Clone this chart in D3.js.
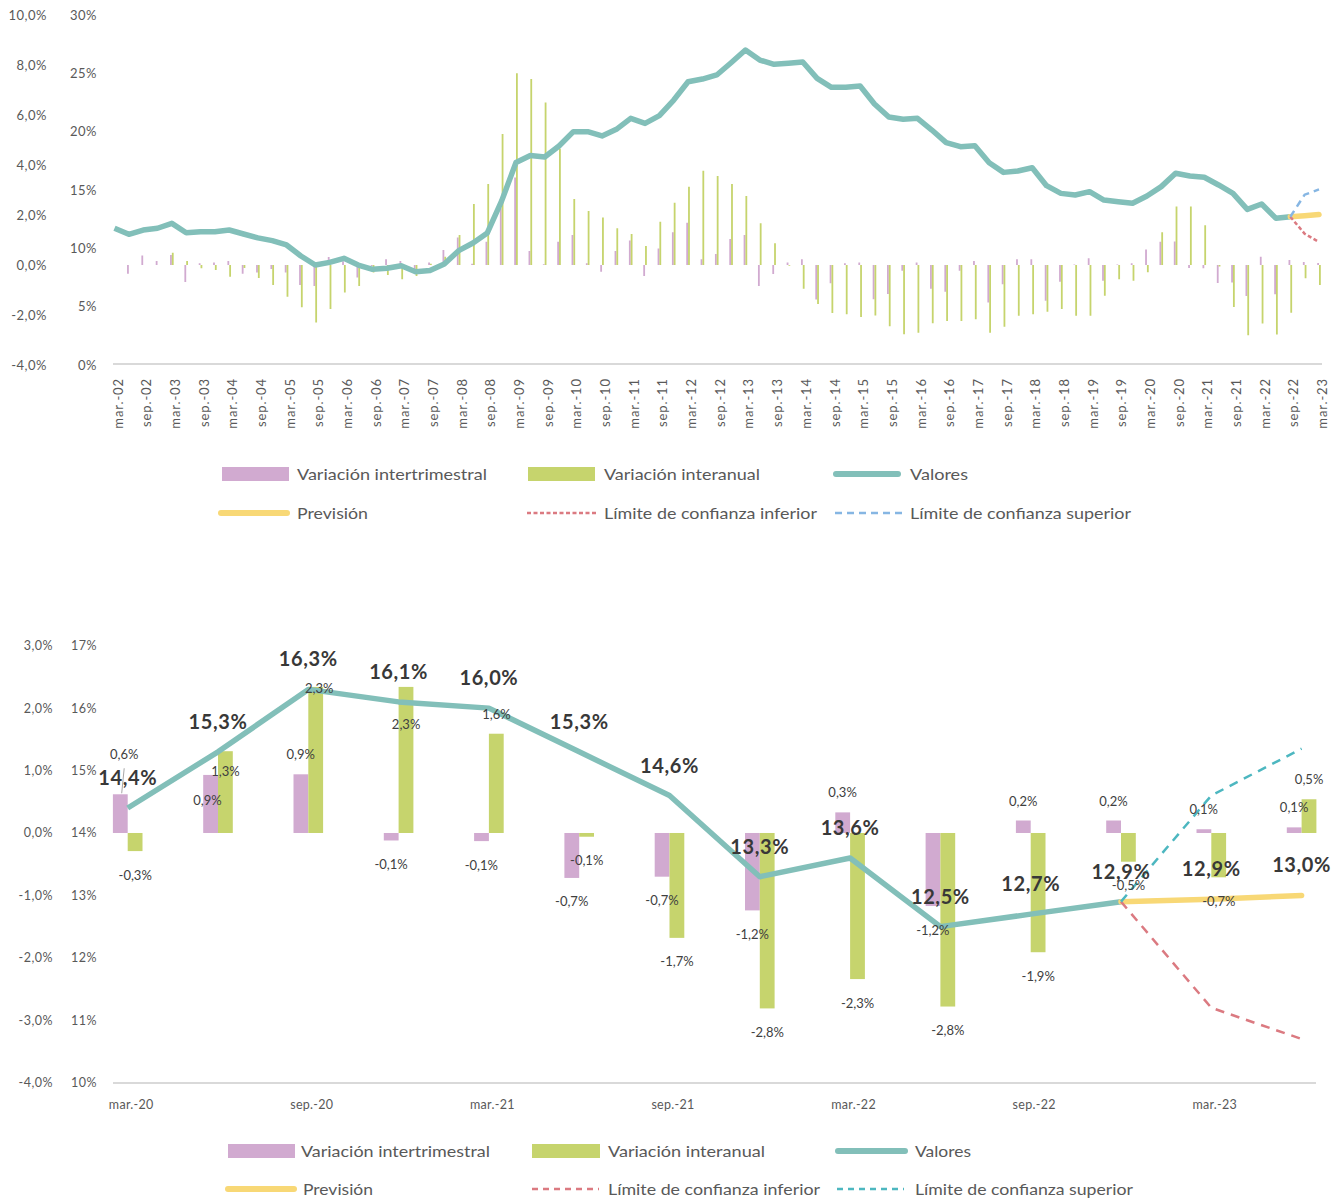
<!DOCTYPE html>
<html><head><meta charset="utf-8">
<script src="https://cdn.jsdelivr.net/npm/d3@7"></script>
<style>
body{margin:0;background:#fff}
svg{display:block}
text{font-family:Lato,"Open Sans",sans-serif}
</style>
</head><body>
<svg id="c" width="1343" height="1198"></svg>
<script>
// ---------- DATA: top chart (quarterly, mar-02 .. mar-23) ----------
const topCategories = [
"mar.-02","jun.-02","sep.-02","dic.-02","mar.-03","jun.-03","sep.-03","dic.-03",
"mar.-04","jun.-04","sep.-04","dic.-04","mar.-05","jun.-05","sep.-05","dic.-05",
"mar.-06","jun.-06","sep.-06","dic.-06","mar.-07","jun.-07","sep.-07","dic.-07",
"mar.-08","jun.-08","sep.-08","dic.-08","mar.-09","jun.-09","sep.-09","dic.-09",
"mar.-10","jun.-10","sep.-10","dic.-10","mar.-11","jun.-11","sep.-11","dic.-11",
"mar.-12","jun.-12","sep.-12","dic.-12","mar.-13","jun.-13","sep.-13","dic.-13",
"mar.-14","jun.-14","sep.-14","dic.-14","mar.-15","jun.-15","sep.-15","dic.-15",
"mar.-16","jun.-16","sep.-16","dic.-16","mar.-17","jun.-17","sep.-17","dic.-17",
"mar.-18","jun.-18","sep.-18","dic.-18","mar.-19","jun.-19","sep.-19","dic.-19",
"mar.-20","jun.-20","sep.-20","dic.-20","mar.-21","jun.-21","sep.-21","dic.-21",
"mar.-22","jun.-22","sep.-22","dic.-22","mar.-23"];
const topTickLabels = topCategories.filter(c => c.startsWith("mar.") || c.startsWith("sep."));
const topLeftTicks = [-4,-2,0,2,4,6,8,10];
const topRightTicks = [0,5,10,15,20,25,30];

const topValores = [
11.72,11.2,11.57,11.72,12.14,11.34,11.43,11.43,11.57,11.23,
10.9,10.66,10.29,9.34,8.57,8.8,9.14,8.57,8.2,8.29,
8.51,8.0,8.09,8.66,9.8,10.46,11.32,14.07,17.35,17.95,
17.83,18.77,20.0,20.0,19.63,20.2,21.14,20.71,21.37,22.71,
24.28,24.51,24.86,25.91,27.0,26.14,25.77,25.86,25.97,24.57,
23.8,23.8,23.91,22.37,21.25,21.06,21.14,20.14,19.06,18.71,
18.8,17.34,16.51,16.63,16.91,15.37,14.71,14.57,14.86,14.14,
14.0,13.86,14.49,15.29,16.43,16.2,16.09,15.43,14.71,13.34,
13.8,12.57,12.71,null,null];
const topInter = [
null,-0.35,0.38,0.16,0.4,-0.68,0.07,0.1,0.16,-0.35,
-0.3,-0.16,-0.3,-0.8,-0.84,0.32,0.15,-0.5,-0.05,0.23,
0.16,-0.23,0.1,0.6,1.1,0.05,0.93,2.27,3.5,0.56,
0.03,0.93,1.2,0.07,-0.27,0.56,0.98,-0.44,0.66,1.31,
1.69,0.23,0.44,1.04,1.2,-0.84,-0.36,0.1,0.23,-1.38,
-0.73,0.07,0.1,-1.37,-1.16,-0.23,0.1,-0.95,-1.07,-0.23,
0.16,-1.5,-0.77,0.23,0.23,-1.43,-0.67,0.02,0.27,-0.63,
0.02,0.07,0.62,0.93,0.94,-0.12,-0.13,-0.72,-0.70,-1.24,
0.33,-1.17,0.20,0.12,0.08];
const topAnual = [
null,null,null,null,0.49,0.16,-0.13,-0.2,-0.47,-0.12,
-0.52,-0.8,-1.27,-1.69,-2.3,-1.76,-1.1,-0.84,-0.3,-0.4,
-0.57,-0.44,0.05,0.33,1.2,2.44,3.24,5.24,7.67,7.44,
6.5,4.65,2.64,2.16,1.9,1.47,1.24,0.76,1.73,2.49,
3.13,3.77,3.56,3.24,2.76,1.67,0.87,-0.03,-0.95,-1.56,
-1.92,-1.97,-2.08,-2.02,-2.45,-2.77,-2.71,-2.33,-2.24,-2.24,
-2.17,-2.71,-2.47,-2.03,-1.97,-1.87,-1.76,-2.03,-2.03,-1.23,
-0.57,-0.63,-0.29,1.31,2.34,2.34,1.59,-0.06,-1.68,-2.81,
-2.34,-2.78,-1.91,-0.53,-0.8];
const topForecastCats = ["sep.-22","dic.-22","mar.-23"];
const topPrevision = [12.71,12.8,12.9];
const topLower = [12.71,11.25,10.55];
const topUpper = [12.71,14.6,15.05];

// ---------- DATA: bottom chart (mar-20 .. jun-23) ----------
const botCategories = ["mar.-20","jun.-20","sep.-20","dic.-20","mar.-21","jun.-21","sep.-21","dic.-21","mar.-22","jun.-22","sep.-22","dic.-22","mar.-23","jun.-23"];
const botTickLabels = ["mar.-20","sep.-20","mar.-21","sep.-21","mar.-22","sep.-22","mar.-23"];
const botLeftTicks = [-4,-3,-2,-1,0,1,2,3];
const botRightTicks = [10,11,12,13,14,15,16,17];
const botValores = [14.4,15.3,16.3,16.1,16.0,15.3,14.6,13.3,13.6,12.5,12.7,12.9,null,null];
const botInter = [0.62,0.93,0.94,-0.12,-0.13,-0.72,-0.70,-1.24,0.33,-1.17,0.20,0.20,0.06,0.09];
const botAnual = [-0.29,1.31,2.34,2.34,1.59,-0.06,-1.68,-2.81,-2.34,-2.78,-1.91,-0.46,-0.71,0.54];
const botForecastCats = ["dic.-22","mar.-23","jun.-23"];
const botPrevision = [12.9,12.94,13.0];
const botLower = [12.9,11.2,10.7];
const botUpper = [12.9,14.6,15.35];

const legendLabels = ["Variación intertrimestral","Variación interanual","Valores","Previsión","Límite de confianza inferior","Límite de confianza superior"];

// ---------- STYLE ----------
const COL = {inter:"#D1AAD0", anual:"#C6D46D", val:"#82BFB9", prev:"#F8D876", low:"#DB7A81",
             upTop:"#86B6E3", upBot:"#4DB7C0", axis:"#D9D9D9", tick:"#595959", lbl:"#404040", big:"#383838"};
const pct1 = v => d3.format(".1f")(v).replace("−","-").replace(".", ",") + "%";
const pct0 = v => d3.format(".0f")(v).replace("−","-") + "%";

const svg = d3.select("#c");
svg.append("rect").attr("width",1343).attr("height",1198).attr("fill","#fff");

function yAxis(scale, ticks, fmt, xRight, size){
  const g = svg.append("g").attr("transform",`translate(${xRight},0)`)
    .call(d3.axisLeft(scale).tickValues(ticks).tickFormat(fmt).tickSize(0).tickPadding(0));
  g.select(".domain").remove();
  g.selectAll("text").attr("fill",COL.tick).style("font-size",size+"px").style("letter-spacing","0.5px")
    .attr("font-family","Lato, 'Open Sans', sans-serif");
}

// ================= TOP CHART =================
const tx = d3.scalePoint().domain(topCategories).range([114.5, 1319]);
const tyL = d3.scaleLinear().domain([-4,10]).range([365,15]);
const tyR = d3.scaleLinear().domain([0,30]).range([365,15]);

yAxis(tyL, topLeftTicks, pct1, 47, 13);
yAxis(tyR, topRightTicks, pct0, 97, 13);

svg.append("line").attr("x1",113).attr("x2",1322).attr("y1",364).attr("y2",364)
  .attr("stroke",COL.axis).attr("stroke-width",2);

const gtx = svg.append("g").attr("transform","translate(0,364)")
  .call(d3.axisBottom(tx).tickValues(topTickLabels).tickSize(0).tickPadding(0));
gtx.select(".domain").remove();
gtx.selectAll("text").attr("transform","rotate(-90)").attr("text-anchor","end")
  .attr("x",-14).attr("y",3).attr("dy","0.35em").attr("fill",COL.tick)
  .style("font-size","13px").style("letter-spacing","0.9px").attr("font-family","Lato, 'Open Sans', sans-serif");

const tbw = 1.8;
function topBars(vals, color, left){
  svg.append("g").selectAll("rect")
    .data(vals.map((v,i)=>({v, c:topCategories[i]})).filter(d=>d.v!=null))
    .join("rect")
    .attr("x", d => left ? tx(d.c)-tbw : tx(d.c))
    .attr("width", tbw)
    .attr("y", d => tyL(Math.max(0,d.v)))
    .attr("height", d => Math.abs(tyL(d.v)-tyL(0)))
    .attr("fill", color);
}
topBars(topInter, COL.inter, true);
topBars(topAnual, COL.anual, false);

const tline = d3.line().defined(d=>d.v!=null).x(d=>tx(d.c)).y(d=>tyR(d.v));
svg.append("path").datum(topValores.map((v,i)=>({v,c:topCategories[i]})))
  .attr("d",tline).attr("fill","none").attr("stroke",COL.val).attr("stroke-width",5.5).attr("stroke-linejoin","round");
const tf = arr => arr.map((v,i)=>({v,c:topForecastCats[i]}));
svg.append("path").datum(tf(topPrevision)).attr("d",tline).attr("fill","none")
  .attr("stroke",COL.prev).attr("stroke-width",5.5).attr("stroke-linecap","round");
svg.append("path").datum(tf(topLower)).attr("d",tline).attr("fill","none")
  .attr("stroke",COL.low).attr("stroke-width",2.5).attr("stroke-dasharray","4,2.5");
svg.append("path").datum(tf(topUpper)).attr("d",tline).attr("fill","none")
  .attr("stroke",COL.upTop).attr("stroke-width",2.5).attr("stroke-dasharray","7,5");

// legend helper
function legend(items){
  items.forEach(it=>{
    const g = svg.append("g");
    if(it.type==="rect"){
      g.append("rect").attr("x",it.x1).attr("y",it.y-7).attr("width",it.x2-it.x1).attr("height",14).attr("fill",it.color);
    } else {
      g.append("line").attr("x1",it.x1).attr("x2",it.x2).attr("y1",it.y).attr("y2",it.y)
        .attr("stroke",it.color).attr("stroke-width",it.w)
        .attr("stroke-linecap", it.dash ? "butt" : "round")
        .attr("stroke-dasharray", it.dash || null);
    }
    g.append("text").attr("x",it.tx).attr("y",it.y).attr("dy","0.36em").text(it.label)
      .attr("fill",COL.tick).style("font-size","16px")
      .attr("textLength",it.tw).attr("lengthAdjust","spacingAndGlyphs");
  });
}
legend([
  {type:"rect", x1:222, x2:289, y:474, color:COL.inter, tx:297, tw:190, label:legendLabels[0]},
  {type:"rect", x1:528, x2:595, y:474, color:COL.anual, tx:604, tw:156, label:legendLabels[1]},
  {type:"line", x1:836, x2:898, y:474, w:6, color:COL.val, tx:910, tw:58, label:legendLabels[2]},
  {type:"line", x1:221, x2:287, y:513, w:6, color:COL.prev, tx:297, tw:71, label:legendLabels[3]},
  {type:"line", x1:527, x2:597, y:513, w:2.5, dash:"4,2.5", color:COL.low, tx:604, tw:213, label:legendLabels[4]},
  {type:"line", x1:835, x2:902, y:513, w:2.5, dash:"7,5", color:COL.upTop, tx:910, tw:221, label:legendLabels[5]}
]);

// ================= BOTTOM CHART =================
const bx = d3.scalePoint().domain(botCategories).range([127.7, 1301.6]);
const byL = d3.scaleLinear().domain([-4,3]).range([1082.7,645.7]);
const byR = d3.scaleLinear().domain([10,17]).range([1082.7,645.7]);

yAxis(byL, botLeftTicks, pct1, 53, 12.5);
yAxis(byR, botRightTicks, pct0, 97, 12.5);

svg.append("line").attr("x1",113).attr("x2",1316).attr("y1",1083).attr("y2",1083)
  .attr("stroke",COL.axis).attr("stroke-width",2);

const gbx = svg.append("g").attr("transform","translate(3,1083)")
  .call(d3.axisBottom(bx).tickValues(botTickLabels).tickSize(0).tickPadding(0));
gbx.select(".domain").remove();
gbx.selectAll("text").attr("y",22).attr("dy","0.35em").attr("fill",COL.tick)
  .style("font-size","12.5px").style("letter-spacing","0.3px").attr("font-family","Lato, 'Open Sans', sans-serif");

const bbw = 14.8;
function botBars(vals, color, left){
  svg.append("g").selectAll("rect")
    .data(vals.map((v,i)=>({v, c:botCategories[i]})))
    .join("rect")
    .attr("x", d => left ? bx(d.c)-bbw : bx(d.c))
    .attr("width", bbw)
    .attr("y", d => byL(Math.max(0,d.v)))
    .attr("height", d => Math.abs(byL(d.v)-byL(0)))
    .attr("fill", color);
}
botBars(botInter, COL.inter, true);
botBars(botAnual, COL.anual, false);

const bline = d3.line().defined(d=>d.v!=null).x(d=>bx(d.c)).y(d=>byR(d.v));
svg.append("path").datum(botValores.map((v,i)=>({v,c:botCategories[i]})))
  .attr("d",bline).attr("fill","none").attr("stroke",COL.val).attr("stroke-width",5.5).attr("stroke-linejoin","round");
const bf = arr => arr.map((v,i)=>({v,c:botForecastCats[i]}));
svg.append("path").datum(bf(botPrevision)).attr("d",bline).attr("fill","none")
  .attr("stroke",COL.prev).attr("stroke-width",5.5).attr("stroke-linecap","round");
svg.append("path").datum(bf(botLower)).attr("d",bline).attr("fill","none")
  .attr("stroke",COL.low).attr("stroke-width",2.5).attr("stroke-dasharray","9,7");
svg.append("path").datum(bf(botUpper)).attr("d",bline).attr("fill","none")
  .attr("stroke",COL.upBot).attr("stroke-width",2.5).attr("stroke-dasharray","9,7");

// data labels
// label nudges (pixels) where the original moved a label off its default spot
const interNudge = {0:{dx:4,dy:-20}, 1:{dx:-3,dy:45}};
const anualNudge = {1:{dx:0,dy:40}, 2:{dx:3.5,dy:21}, 3:{dx:0,dy:57}};
const lblG = svg.append("g");
function barLabels(vals, left, nudge){
  vals.forEach((v,i)=>{
    const c = botCategories[i];
    const n = nudge[i] || {dx:0,dy:0};
    const x = bx(c) + (left ? -7.5 : 7.5) + n.dx;
    const y = (v >= 0 ? byL(v) - 19.5 : byL(v) + 24) + n.dy;
    lblG.append("text").attr("x",x).attr("y",y).attr("dy","0.35em").attr("text-anchor","middle")
      .attr("fill",COL.lbl).style("font-size","13px").text(pct1(v));
  });
}
// leader line for first intertrimestral label
lblG.append("line").attr("x1",bx(botCategories[0])-3.5).attr("y1",byL(botInter[0])-26)
  .attr("x2",bx(botCategories[0])-6).attr("y2",byL(botInter[0])-1)
  .attr("stroke","#A6A6A6").attr("stroke-width",1);
barLabels(botInter, true, interNudge);
barLabels(botAnual, false, anualNudge);

const valLabelData = botValores.map((v,i)=>({c:botCategories[i], v}))
  .filter(d=>d.v!=null)
  .concat(botForecastCats.slice(1).map((c,i)=>({c, v:botPrevision[i+1]})));
lblG.selectAll(".vl").data(valLabelData).join("text")
  .attr("x",d=>bx(d.c)).attr("y",d=>byR(d.v)-30).attr("dy","0.35em").attr("text-anchor","middle")
  .attr("fill",COL.big).style("font-size","20px").style("font-weight","700").style("letter-spacing","0.6px")
  .text(d=>pct1(d.v));

legend([
  {type:"rect", x1:228, x2:295, y:1151, color:COL.inter, tx:301, tw:189, label:legendLabels[0]},
  {type:"rect", x1:532, x2:600, y:1151, color:COL.anual, tx:608, tw:157, label:legendLabels[1]},
  {type:"line", x1:838, x2:905, y:1151, w:6, color:COL.val, tx:915, tw:56, label:legendLabels[2]},
  {type:"line", x1:228, x2:294, y:1189, w:6, color:COL.prev, tx:303, tw:70, label:legendLabels[3]},
  {type:"line", x1:532, x2:599, y:1189, w:2.5, dash:"6,5", color:COL.low, tx:608, tw:212, label:legendLabels[4]},
  {type:"line", x1:837, x2:904, y:1189, w:2.5, dash:"6,5", color:COL.upBot, tx:915, tw:218, label:legendLabels[5]}
]);
</script>
</body></html>
